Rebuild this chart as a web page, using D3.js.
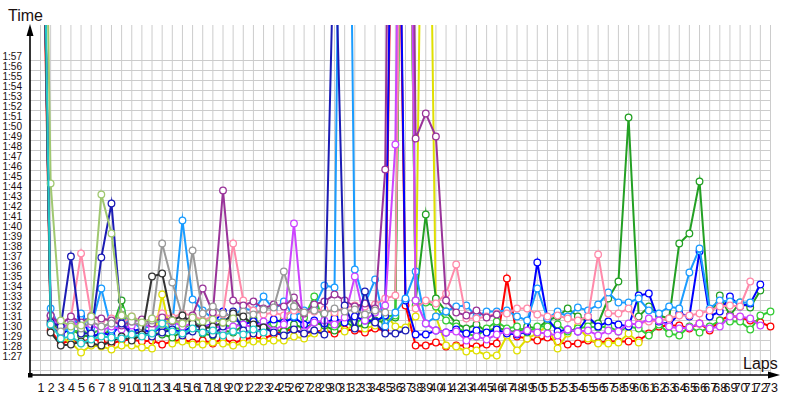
<!DOCTYPE html>
<html>
<head>
<meta charset="utf-8">
<script src="https://cdn.jsdelivr.net/npm/d3@7"></script>
<style>
  body { margin: 0; background: #fff; }
  svg { display: block; }
</style>
</head>
<body>
<script>
// lap numbers (x categories / tick labels)
var laps = [1, 2, 3, 4, 5, 6, 7, 8, 9, 10, 11, 12, 13, 14, 15, 16, 17, 18, 19, 20,
    21, 22, 23, 24, 25, 26, 27, 28, 29, 30, 31, 32, 33, 34, 35, 36, 37, 38, 39, 40,
    41, 42, 43, 44, 45, 46, 47, 48, 49, 50, 51, 52, 53, 54, 55, 56, 57, 58, 59, 60,
    61, 62, 63, 64, 65, 66, 67, 68, 69, 70, 71, 72, 73];

// y tick labels, in seconds (1:27 .. 1:57)
var timeTicks = [87, 88, 89, 90, 91, 92, 93, 94, 95, 96, 97, 98, 99, 100, 101, 102,
    103, 104, 105, 106, 107, 108, 109, 110, 111, 112, 113, 114, 115, 116, 117];
// horizontal grid lines (one more below the last label)
var gridTimes = [86].concat(timeTicks);

// lap times in seconds, one array per car (null = no lap)
var red = [145, 90.0, 88.7, 89.0, 88.8, 89.2, 88.9, 88.7, 89.0, 89.1,
    88.9, 89.0, 88.6, 88.9, 89.1, 88.8, 89.0, 88.7, 89.2, 88.7,
    89.1, 89.3, 89.2, 89.6, 90.0, 90.1, 89.7, 89.9, 90.0, 89.7,
    90.1, 90.0, 89.8, 90.2, 90.0, 160, 92.5, 88.5, 88.5, 88.8,
    88.4, 88.5, 88.5, 88.4, 88.6, 88.7, 95.2, 89.4, 89.2, 89.0,
    89.3, 88.9, 88.6, 88.7, 89.0, 88.8, 88.9, 88.9, 88.9, 89.0,
    89.7, 90.4, 90.5, 90.5, 90.2, 90.7, 90.0, 91.0, 91.5, 91.3,
    91.0, 90.8, 90.4];

var yellow = [150, 90.8, 89.3, 88.8, 87.8, 88.5, 88.4, 88.1, 88.5, 88.5,
    88.3, 88.2, 93.6, 88.7, 88.9, 88.6, 88.6, 88.8, 88.7, 88.5,
    88.7, 88.9, 88.9, 89.0, 89.0, 89.4, 89.2, 89.7, 90.0, 91.5,
    89.9, 90.7, 90.2, 90.5, 91.7, 90.4, 90.3, 91.4, 170, 91.4,
    88.5, 88.4, 87.9, 88.0, 87.5, 87.5, 89.5, 88.0, 89.2, 89.7,
    90.5, 88.2, 89.7, 90.4, 89.2, 88.7, 88.7, 88.8, 89.7, 88.8,
    null, null, null, null, null, null, null, null, null, null,
    null, null, null];

var green = [150, 91.0, 89.8, 90.2, 89.5, 89.4, 89.6, 90.0, 93.0, 89.2,
    89.5, 89.8, 89.6, 89.3, 89.9, 90.2, 89.7, 89.5, 90.0, 89.8,
    90.5, 91.2, 90.4, 90.1, 89.9, 90.6, 90.2, 90.8, 90.5, 90.0,
    90.9, 90.3, 90.6, 91.0, 90.8, 91.3, 175, 93.0, 101.6, 93.2,
    91.9, 90.7, 90.2, 90.6, 89.9, 90.3, 90.0, 89.8, 90.4, 90.2,
    91.0, 91.4, 92.2, 91.4, 90.9, 90.7, 93.2, 94.9, 111.3, 91.4,
    92.4, 91.5, 91.2, 98.7, 99.7, 104.9, 91.4, 93.5, 91.5, 92.8,
    92.3, 94.0, null];

var limeGreen = [150, 91.5, 90.3, 89.9, 90.0, 89.6, 90.2, 90.9, 92.0, 89.8,
    90.2, 90.5, 89.9, 90.3, 90.1, 90.8, 90.4, 90.2, 90.6, 90.3,
    90.9, 91.0, 90.5, 90.7, 91.2, 92.4, 91.3, 93.4, 90.8, 90.4,
    91.0, 90.8, 91.2, 90.9, 91.4, 91.5, 175, 92.5, 92.8, 92.4,
    91.0, 90.4, 89.7, 89.4, 90.2, 90.9, 90.2, 90.4, 89.8, 90.4,
    90.4, 90.6, 89.9, 90.2, 90.4, 90.3, 90.4, 89.9, 90.4, 90.2,
    89.5, 90.6, 89.7, 89.5, 90.4, 89.8, 90.4, 91.0, 90.9, 90.9,
    90.1, 91.5, 91.9];

var blue = [150, 90.6, 89.5, 90.3, 91.4, 89.3, 89.8, 89.5, 90.8, 89.9,
    90.2, 89.7, 90.4, 90.1, 89.8, 90.5, 90.3, 90.7, 91.9, 91.2,
    90.6, 90.9, 90.5, 91.1, 90.8, 91.3, 90.6, 91.0, 90.7, 91.2,
    90.8, 91.4, 91.0, 90.9, 91.5, 165, 93.0, 89.6, 89.6, 90.0,
    89.8, 90.1, 89.7, 90.0, 89.8, 90.1, 89.7, 89.6, 89.9, 96.8,
    91.2, 89.9, 90.1, 89.9, 91.4, 90.4, 90.9, 90.6, 90.4, 93.5,
    93.7, 90.9, 90.6, 91.7, 91.4, 97.9, 91.4, 91.9, 93.4, 92.4,
    92.7, 94.6, null];

var dodger = [150, 92.2, 90.0, 90.1, 91.7, 90.3, 94.2, 90.1, 90.6, 91.1,
    90.0, 90.8, 91.0, 90.6, 101.0, 93.1, 92.0, 91.2, 90.9, 91.5,
    92.2, 92.0, 93.4, 92.1, 92.9, 91.4, 92.0, 92.3, 94.5, 94.3,
    185, 96.1, 92.7, 95.1, 90.4, 91.8, 93.2, 95.9, 90.7, 91.4,
    91.9, 92.4, 92.5, 91.4, 91.9, 91.9, 92.0, 91.4, 91.0, 94.2,
    91.2, 91.9, 91.4, 92.3, 92.0, 92.6, 93.8, 92.8, 92.8, 93.2,
    92.0, 91.7, 92.4, 92.2, 95.8, 98.2, 92.2, 93.0, 92.9, 92.8,
    92.8, null, null];

var pink = [150, 91.2, 90.8, 91.3, 97.7, 91.5, 91.0, 91.2, 90.7, 91.4,
    90.9, 91.1, 91.7, 91.3, 91.7, 91.5, 91.0, 91.4, 91.6, 98.7,
    93.0, 92.0, 91.6, 91.8, 91.5, 92.0, 91.7, 91.9, 92.1, 91.8,
    92.3, 92.5, 92.4, 92.6, 93.2, 93.5, 180, 92.2, 93.0, 92.7,
    93.7, 96.6, 91.2, 91.2, 91.4, 91.7, 91.7, 92.2, 92.2, 91.6,
    91.4, 91.5, 91.2, 91.0, 91.4, 97.6, 91.7, 91.7, 92.2, 90.7,
    90.9, 91.0, 91.2, 91.5, 91.5, 91.7, 92.0, 92.4, 92.5, 92.4,
    94.9, null, null];

var violet = [150, 91.5, 90.0, 91.0, 90.3, 90.6, 90.0, 90.4, 90.1, 90.5,
    90.8, 90.2, 90.6, 90.9, 90.4, 90.7, 90.3, 90.6, 90.1, 90.4,
    90.6, 90.3, 90.9, 90.0, 90.6, 100.7, 89.9, 90.8, 91.0, 90.6,
    91.3, 95.4, 91.0, 91.8, 92.5, 108.6, 190, 93.0, 90.7, 90.0,
    89.8, 89.9, 89.0, 89.4, 89.1, 89.6, 89.9, 89.7, 90.0, 89.8,
    89.7, 89.5, 90.1, 89.9, 90.0, 89.5, 90.0, 89.9, 90.7, 90.6,
    91.2, 91.0, 90.4, 90.2, 90.3, 90.7, 90.2, 90.4, 91.4, 91.4,
    91.2, 90.5, null];

var purple = [150, 91.5, 90.6, 91.4, 90.8, 91.4, 91.2, 91.0, 90.5, 90.9,
    91.1, 90.7, 91.3, 91.0, 90.8, 91.5, 94.2, 91.8, 104.0, 93.0,
    92.5, 92.9, 92.2, 92.6, 92.4, 93.3, 91.7, 92.6, 92.9, 93.6,
    93.0, 92.4, 92.7, 92.2, 106.1, 200, 200, 109.2, 111.7, 109.4,
    93.0, 91.8, 91.5, 92.0, 91.3, 91.6, null, null, null, null,
    null, null, null, null, null, null, null, null, null, null,
    null, null, null, null, null, null, null, null, null, null,
    null, null, null];

var navy = [150, 90.8, 90.4, 97.4, 89.7, 89.7, 97.3, 102.7, 90.7, 89.6,
    89.9, 89.4, 89.8, 90.1, 89.5, 89.9, 90.2, 89.6, 90.4, 91.9,
    90.0, 89.7, 90.3, 89.8, 89.5, 90.1, 89.7, 90.0, 89.6, 132,
    92.5, 90.2, 93.9, 90.8, 89.7, 89.7, 90.0, null, null, null,
    null, null, null, null, null, null, null, null, null, null,
    null, null, null, null, null, null, null, null, null, null,
    null, null, null, null, null, null, null, null, null, null,
    null, null, null];

var gray = [150, 90.5, 89.9, 90.6, 90.2, 90.9, 90.4, 90.7, 91.6, 90.9,
    90.4, 91.0, 98.7, 94.8, 91.4, 98.0, 91.7, 92.4, 91.7, 91.4,
    91.9, 91.6, 92.1, 92.3, 95.9, 92.4, 91.8, 92.0, 91.7, 92.2,
    91.9, 92.1, 91.6, 92.0, 91.8, null, null, null, null, null,
    null, null, null, null, null, null, null, null, null, null,
    null, null, null, null, null, null, null, null, null, null,
    null, null, null, null, null, null, null, null, null, null,
    null, null, null];

var dark = [150, 89.8, 88.5, 88.6, 88.9, 88.7, 88.5, 88.9, 89.4, 89.0,
    89.6, 95.4, 95.7, 91.0, 91.5, 90.7, 90.2, 90.4, 90.8, 91.7,
    91.4, 90.6, 90.3, null, null, null, null, null, null, null,
    null, null, null, null, null, null, null, null, null, null,
    null, null, null, null, null, null, null, null, null, null,
    null, null, null, null, null, null, null, null, null, null,
    null, null, null, null, null, null, null, null, null, null,
    null, null, null];

var olive = [170, 104.7, 91.0, 90.4, 90.5, 91.4, 103.6, 99.7, 91.5, 91.4,
    90.8, 91.2, 90.6, 91.0, 90.7, 91.3, 90.9, 91.1, 90.8, 91.2,
    null, null, null, null, null, null, null, null, null, null,
    null, null, null, null, null, null, null, null, null, null,
    null, null, null, null, null, null, null, null, null, null,
    null, null, null, null, null, null, null, null, null, null,
    null, null, null, null, null, null, null, null, null, null,
    null, null, null];

var teal = [155, 90.6, 89.2, 89.4, 88.7, 89.1, 89.4, 89.3, 89.2, 89.6,
    89.4, 89.7, 90.7, 89.9, 89.7, 90.2, 89.8, 90.0, 89.5, 89.9,
    89.6, 90.1, 89.8, null, null, null, null, null, null, null,
    null, null, null, null, null, null, null, null, null, null,
    null, null, null, null, null, null, null, null, null, null,
    null, null, null, null, null, null, null, null, null, null,
    null, null, null, null, null, null, null, null, null, null,
    null, null, null];

// draw order: first entries end up underneath
var cars = [
    { values: red, color: "#ff0000" },
    { values: yellow, color: "#e0e000" },
    { values: green, color: "#23a023" },
    { values: limeGreen, color: "#33cc33" },
    { values: blue, color: "#0000ff" },
    { values: dodger, color: "#1a9cff" },
    { values: pink, color: "#ff8aaa" },
    { values: violet, color: "#cc44ff" },
    { values: purple, color: "#993399" },
    { values: navy, color: "#1c1cb4" },
    { values: gray, color: "#999999" },
    { values: dark, color: "#333333" },
    { values: olive, color: "#a0c870" },
    { values: teal, color: "#22c8c8" }
];

var W = 800, H = 400;
var font = "'Liberation Sans', Arial, sans-serif";

var svg = d3.select("body").append("svg")
    .attr("width", W)
    .attr("height", H);

var x = d3.scaleLinear().domain([1, 73]).range([40.5, 770.5]);
var y = d3.scaleLinear().domain([86, 117]).range([370.5, 60.5]);

// grid
var grid = svg.append("g").attr("stroke", "#cccccc").attr("stroke-width", 1);
grid.selectAll(".vg").data(laps).enter().append("line")
    .attr("x1", d => x(d)).attr("x2", d => x(d))
    .attr("y1", 25).attr("y2", 375);
grid.selectAll(".hg").data(gridTimes).enter().append("line")
    .attr("x1", 30).attr("x2", 770.5)
    .attr("y1", d => y(d)).attr("y2", d => y(d));

// tick labels through d3 axes, domain lines removed
function mmss(s) {
    var m = Math.floor(s / 60), r = s - m * 60;
    return m + ":" + (r < 10 ? "0" : "") + r;
}

var yAxis = svg.append("g")
    .attr("transform", "translate(30,0)")
    .call(d3.axisLeft(y).tickValues(timeTicks).tickFormat(mmss).tickSize(0).tickPadding(8));
yAxis.select(".domain").remove();
yAxis.selectAll("text")
    .attr("dy", -1)
    .attr("fill", "#1a1010")
    .style("font-family", font)
    .style("font-size", "10px");

var xAxis = svg.append("g")
    .attr("transform", "translate(0,375)")
    .call(d3.axisBottom(x).tickValues(laps).tickFormat(d3.format("d")).tickSize(0).tickPadding(8));
xAxis.select(".domain").remove();
xAxis.selectAll("text")
    .attr("fill", "#1a1010")
    .style("font-family", font)
    .style("font-size", "12.5px");

// series, clipped to the plot area
svg.append("clipPath").attr("id", "plot")
    .append("rect").attr("x", 30).attr("y", 25).attr("width", 752).attr("height", 350);

var plot = svg.append("g").attr("clip-path", "url(#plot)");

var line = d3.line()
    .defined(d => d != null)
    .x((d, i) => x(laps[i]))
    .y(d => y(d));

cars.forEach(function (car) {
    var g = plot.append("g");
    g.append("path")
        .datum(car.values)
        .attr("d", line)
        .attr("fill", "none")
        .attr("stroke", car.color)
        .attr("stroke-width", 2)
        .attr("stroke-linejoin", "miter")
        .attr("stroke-miterlimit", 10);

    var pts = car.values.map((v, i) => ({ lap: laps[i], t: v })).filter(p => p.t != null);
    g.selectAll("circle").data(pts).enter().append("circle")
        .attr("cx", d => x(d.lap))
        .attr("cy", d => y(d.t))
        .attr("r", 3.3)
        .attr("fill", "#fff")
        .attr("stroke", car.color)
        .attr("stroke-width", 1.3);
});

// axes with arrow heads
svg.append("line").attr("x1", 30).attr("x2", 30).attr("y1", 375).attr("y2", 32)
    .attr("stroke", "#000").attr("stroke-width", 1.6);
svg.append("path").attr("d", "M30,24L26.5,36L33.5,36Z").attr("fill", "#000");
svg.append("line").attr("x1", 30).attr("x2", 772).attr("y1", 375).attr("y2", 375)
    .attr("stroke", "#000").attr("stroke-width", 1.6);
svg.append("path").attr("d", "M780,375L768,371.5L768,378.5Z").attr("fill", "#000");
svg.append("rect").attr("x", 28).attr("y", 373).attr("width", 4.5).attr("height", 4.5).attr("fill", "#000");

// axis titles
svg.append("text").attr("x", 8).attr("y", 21).text("Time")
    .attr("fill", "#1a1010").style("font-family", font).style("font-size", "16px");
svg.append("text").attr("x", 743).attr("y", 369).text("Laps")
    .attr("fill", "#1a1010").style("font-family", font).style("font-size", "16px");
</script>
</body>
</html>
